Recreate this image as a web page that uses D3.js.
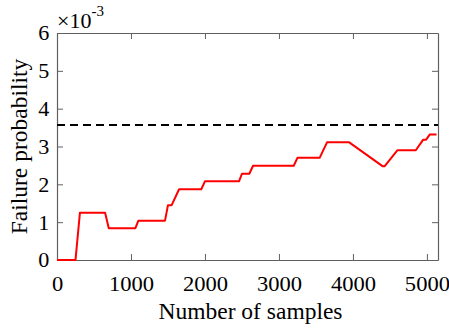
<!DOCTYPE html>
<html>
<head>
<meta charset="utf-8">
<script src="https://cdn.jsdelivr.net/npm/d3@7/dist/d3.min.js"></script>
<style>
  html, body { margin: 0; padding: 0; background: #fff; }
  svg { display: block; font-family: "Liberation Serif", "Times New Roman", serif; }
</style>
</head>
<body>
<svg id="chart" width="449" height="330"></svg>
<script>
// Estimated failure probability (×10^-3) as the number of samples grows
const samples = [0, 250, 310, 650, 700, 1060, 1100, 1460, 1500, 1550, 1650, 1950, 2000,
  2460, 2500, 2600, 2650, 3200, 3250, 3550, 3650, 3950, 4400, 4430, 4600, 4850, 4950,
  4990, 5040, 5130];
const probability = [0, 0, 1.25, 1.25, 0.84, 0.84, 1.04, 1.04, 1.45, 1.45, 1.87, 1.87, 2.08,
  2.08, 2.28, 2.28, 2.49, 2.49, 2.70, 2.70, 3.11, 3.11, 2.48, 2.48, 2.90, 2.90, 3.18,
  3.18, 3.32, 3.32];
// Reference failure probability (×10^-3)
const referenceValue = 3.57;

const xTicks = [0, 1000, 2000, 3000, 4000, 5000];
const yTicks = [0, 1, 2, 3, 4, 5, 6];

const margin = { left: 57, right: 11, top: 33, bottom: 70 };
const W = 449, H = 330;
const svg = d3.select("#chart");

const x = d3.scaleLinear().domain([0, 5150]).range([margin.left, W - margin.right]);
const y = d3.scaleLinear().domain([0, 6]).range([H - margin.bottom, margin.top]);

const axisColor = "#606060";
const tickLen = 6;
const fmt = d3.format("d");

// bottom axis with labels
const gx = svg.append("g").attr("transform", `translate(0,${y(0)})`)
  .call(d3.axisBottom(x).tickValues(xTicks).tickFormat(fmt)
    .tickSizeInner(-tickLen).tickSizeOuter(0).tickPadding(16));
// left axis with labels
const gy = svg.append("g").attr("transform", `translate(${x.range()[0]},0)`)
  .call(d3.axisLeft(y).tickValues(yTicks).tickFormat(fmt)
    .tickSizeInner(-tickLen).tickSizeOuter(0).tickPadding(7));
// top and right frame ticks
const gt = svg.append("g").attr("transform", `translate(0,${y(6)})`)
  .call(d3.axisTop(x).tickValues(xTicks).tickSizeInner(-tickLen).tickSizeOuter(0).tickFormat(""));
const gr = svg.append("g").attr("transform", `translate(${x.range()[1]},0)`)
  .call(d3.axisRight(y).tickValues(yTicks).tickSizeInner(-tickLen).tickSizeOuter(0).tickFormat(""));

[gx, gy, gt, gr].forEach(g => {
  g.select(".domain").attr("stroke", axisColor).attr("stroke-width", 1.2);
  g.selectAll(".tick line").attr("stroke", axisColor).attr("stroke-width", 1);
  g.selectAll(".tick text").attr("fill", "#000")
    .style("font-family", '"Liberation Serif", "Times New Roman", serif')
    .style("font-size", "20.5px");
});
gx.selectAll(".tick text").attr("transform", "scale(1.1,1)");
gy.selectAll(".tick text").attr("dy", "0.34em").attr("transform", "scale(1.08,1)");

// dashed reference line
svg.append("line")
  .attr("x1", x.range()[0]).attr("x2", x.range()[1])
  .attr("y1", y(referenceValue)).attr("y2", y(referenceValue))
  .attr("stroke", "#000").attr("stroke-width", 2)
  .attr("stroke-dasharray", "8,5");

// estimate curve
const line = d3.line().x((d, i) => x(samples[i])).y(d => y(d));
svg.append("path")
  .datum(probability)
  .attr("d", line)
  .attr("fill", "none")
  .attr("stroke", "#ff0000")
  .attr("stroke-width", 2)
  .attr("stroke-linejoin", "round");

// axis titles
svg.append("text")
  .attr("x", (x.range()[0] + x.range()[1]) / 2 + 3)
  .attr("y", 319)
  .attr("text-anchor", "middle")
  .style("font-size", "23.5px")
  .text("Number of samples");

svg.append("text")
  .attr("transform", `translate(27,${(y.range()[0] + y.range()[1]) / 2}) rotate(-90)`)
  .attr("text-anchor", "middle")
  .style("font-size", "23.5px")
  .text("Failure probability");

// exponent label
const ex = svg.append("text").attr("x", 57).attr("y", 28).style("font-size", "22px");
ex.append("tspan").text("×10");
ex.append("tspan").attr("dy", -12).style("font-size", "15px").text("-3");
</script>
</body>
</html>
